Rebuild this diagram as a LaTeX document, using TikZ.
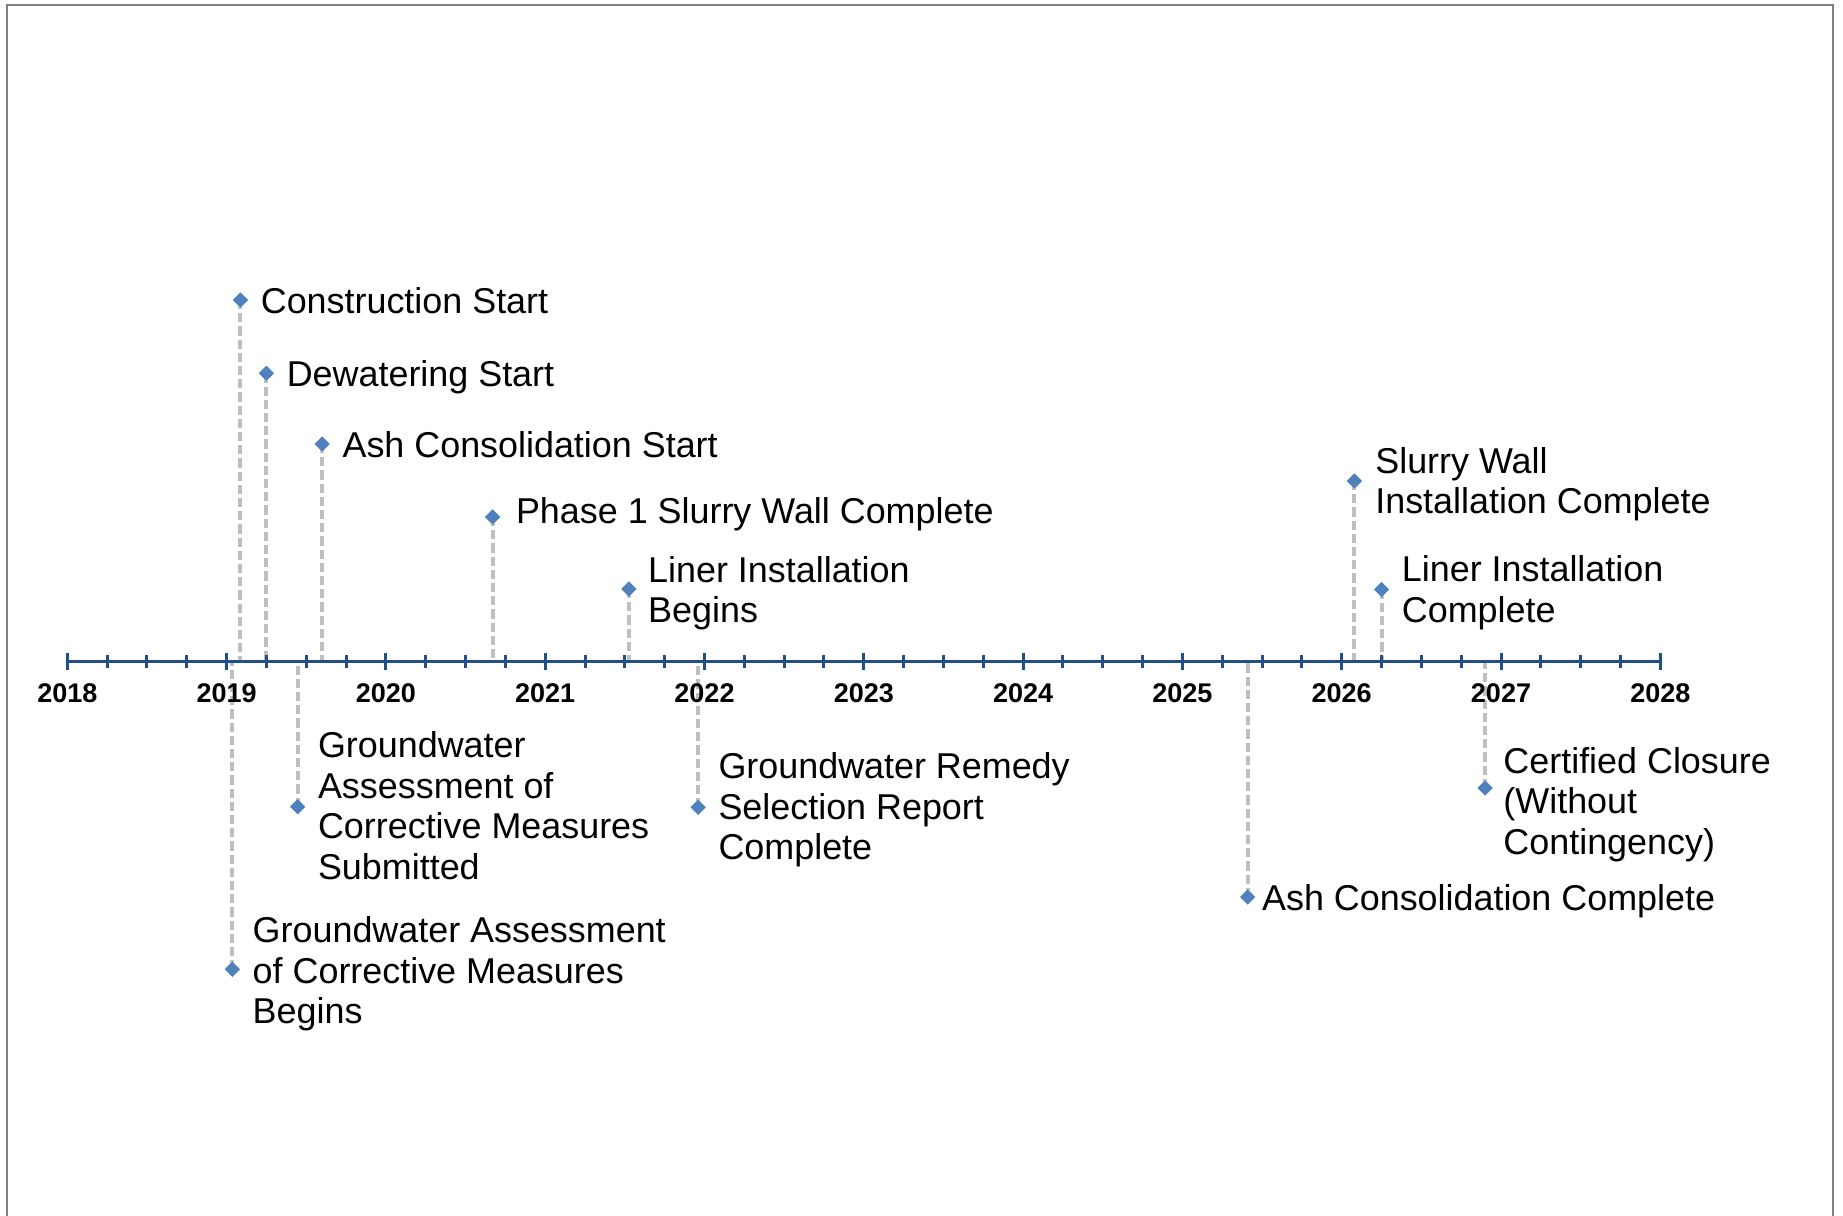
\documentclass[tikz,border=0pt]{standalone}
\usepackage{fontspec}
\setmainfont{Liberation Sans}
\usetikzlibrary{shapes.geometric,calc}

\definecolor{axisblue}{HTML}{234F88}
\definecolor{markblue}{HTML}{4F81BD}
\definecolor{leadergray}{HTML}{BFBFBF}
\definecolor{framegray}{HTML}{808080}

% one milestone: #1 name, #2 date (decimal year), #3 vertical position (px),
% #4 number of text lines, #5 label offset (dx,dy) in px, #6 label text
\newcommand\milestone[6]{%
  \pgfmathsetmacro\msx{67.3+(#2-2018)*159.3}%
  \node[msmark] (#1) at (\msx,#3) {};
  \draw[leader] (#1.center) -- (#1.center |- a0);
  \node[mslabel] (#1-t) at ($(#1.center)+(0,{-(25.6+(#4-1)*40.5)/2})+#5$) {#6};
}

\begin{document}
\begin{tikzpicture}[
    x=0.5pt, y=-0.5pt,
    msmark/.style={diamond, fill=markblue, draw=none, inner sep=0pt,
                   minimum width=7.6pt, minimum height=7.6pt},
    leader/.style={draw=leadergray, line width=2pt, dash pattern=on 4.6pt off 2pt},
    mslabel/.style={anchor=north west, inner sep=0pt, align=left,
                    font=\fontsize{17.95pt}{20.3pt}\selectfont},
    axisline/.style={draw=axisblue, line width=1.5pt},
    ticks/.style={draw=axisblue, line width=1.5pt},
    yearlabel/.style={anchor=base, inner sep=0pt,
                      font=\fontsize{13.5pt}{16pt}\selectfont\bfseries},
  ]
  \useasboundingbox (0,0) rectangle (1843,1216);

  % frame
  \draw[framegray, line width=1pt] (7,1216) -- (7,5) -- (1833,5) -- (1833,1216);

  % time axis end points
  \coordinate (a0) at (67.3,661.3);
  \coordinate (a1) at (1660.3,661.3);

  % milestones above the axis
  \milestone{cs}{2019.087}{300}{1}{(20,0)}{Construction Start}
  \milestone{ds}{2019.25}{373.3}{1}{(20,0)}{Dewatering Start}
  \milestone{acs}{2019.60}{444}{1}{(20,0)}{Ash Consolidation Start}
  \milestone{psw}{2020.67}{517}{1}{(23,-7)}{Phase 1 Slurry Wall Complete}
  \milestone{lib}{2021.525}{589}{2}{(19,0)}{Liner Installation\\Begins}
  \milestone{swic}{2026.08}{481}{2}{(20.5,-1)}{Slurry Wall\\Installation Complete}
  \milestone{lic}{2026.25}{589.5}{2}{(20,-1)}{Liner Installation\\Complete}

  % milestones below the axis
  \milestone{gwb}{2019.036}{969.3}{3}{(20,0)}{Groundwater Assessment\\of Corrective Measures\\Begins}
  \milestone{gws}{2019.446}{806.7}{4}{(20,-2)}{Groundwater\\Assessment of\\Corrective Measures\\Submitted}
  \milestone{gwr}{2021.96}{807.3}{3}{(20,-2)}{Groundwater Remedy\\Selection Report\\Complete}
  \milestone{acc}{2025.41}{897}{1}{(14,0)}{Ash Consolidation Complete}
  \milestone{ccl}{2026.90}{788}{3}{(18,12)}{Certified Closure\\(Without\\Contingency)}

  % axis with quarter-year ticks
  \draw[axisline] (a0) -- (a1);
  \foreach \i in {0,...,40} {
    \pgfmathsetmacro\tx{67.3+\i*39.825}
    \pgfmathtruncatemacro\ismajor{mod(\i,4)==0 ? 1 : 0}
    \ifnum\ismajor=1
      \draw[ticks] (\tx,652.5) -- (\tx,670);
    \else
      \draw[ticks] (\tx,655) -- (\tx,667.5);
    \fi
  }
  \foreach \yr in {2018,...,2028} {
    \pgfmathsetmacro\tx{67.3+(\yr-2018)*159.3}
    \node[yearlabel] (y\yr) at (\tx,702) {\yr};
  }

  % markers on top of the leaders and axis
  \foreach \m in {cs,ds,acs,psw,lib,swic,lic,gwb,gws,gwr,acc,ccl} {
    \fill[markblue] ($(\m.center)+(-7.5,0)$) -- ($(\m.center)+(0,-7.5)$)
      -- ($(\m.center)+(7.5,0)$) -- ($(\m.center)+(0,7.5)$) -- cycle;
  }
\end{tikzpicture}
\end{document}
